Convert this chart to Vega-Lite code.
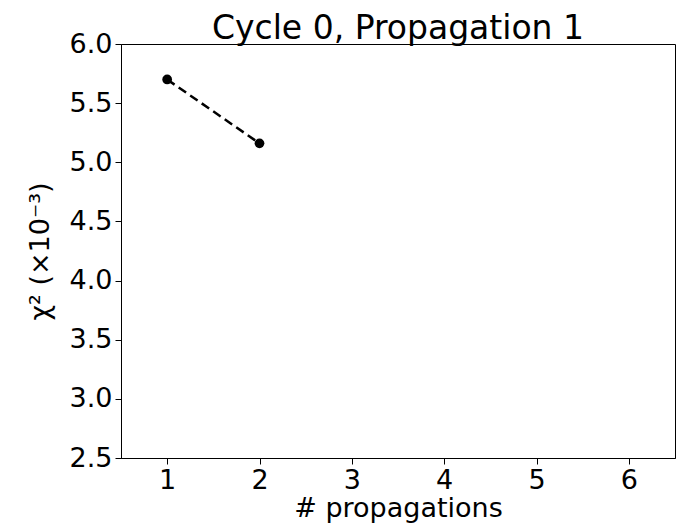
{
  "$schema": "https://vega.github.io/schema/vega-lite/v6.json",
  "width": 554,
  "height": 414,
  "autosize": {"type": "none"},
  "padding": {"left": 121, "top": 44, "right": 8, "bottom": 70},
  "background": "white",
  "title": {"text": "Cycle 0, Propagation 1", "font": "DejaVu Sans", "fontSize": 33, "fontWeight": "normal", "color": "black", "offset": 6, "dy": 22},
  "config": {
    "view": {"stroke": "black", "strokeWidth": 1},
    "axis": {
      "grid": false,
      "domainColor": "black",
      "tickColor": "black",
      "tickSize": 6,
      "labelPadding": 3,
      "labelFont": "DejaVu Sans",
      "labelFontSize": 27,
      "labelColor": "black",
      "titleFont": "DejaVu Sans",
      "titleFontSize": 27,
      "titleFontWeight": "normal",
      "titleColor": "black"
    }
  },
  "data": {"values": [
    {"n": 1, "chi2": 5.70},
    {"n": 2, "chi2": 5.16}
  ]},
  "layer": [
    {
      "mark": {"type": "line", "color": "black", "strokeWidth": 2.5, "strokeDash": [9, 5]},
      "encoding": {
        "x": {"field": "n", "type": "quantitative", "scale": {"domain": [0.5, 6.5], "nice": false, "zero": false}, "axis": {"values": [1, 2, 3, 4, 5, 6], "format": "d", "title": "# propagations", "titlePadding": 2}},
        "y": {"field": "chi2", "type": "quantitative", "scale": {"domain": [2.5, 6.0], "nice": false, "zero": false}, "axis": {"values": [2.5, 3.0, 3.5, 4.0, 4.5, 5.0, 5.5, 6.0], "format": ".1f", "title": "χ² (×10⁻³)", "titlePadding": 15}}
      }
    },
    {
      "mark": {"type": "point", "filled": true, "color": "black", "opacity": 1, "size": 95},
      "encoding": {
        "x": {"field": "n", "type": "quantitative"},
        "y": {"field": "chi2", "type": "quantitative"}
      }
    }
  ]
}
